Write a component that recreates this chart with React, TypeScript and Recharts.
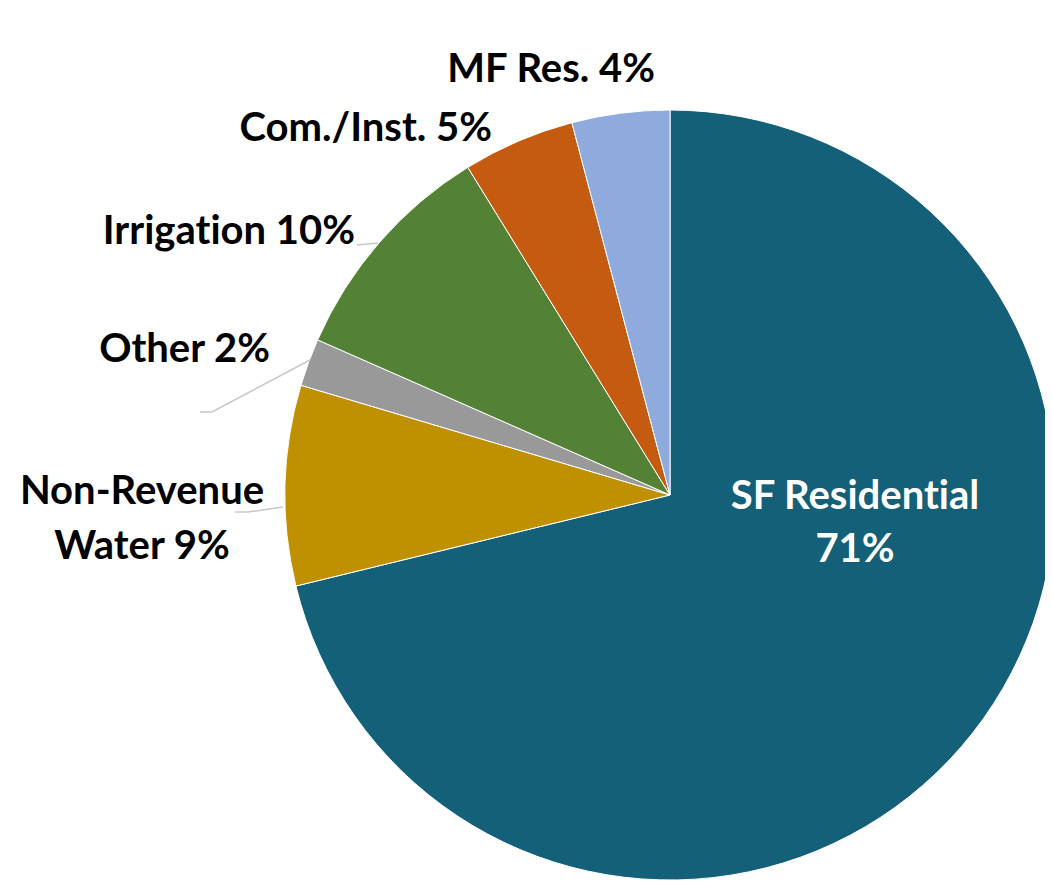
import React from "react";
import { PieChart, Pie, Cell } from "recharts";

// Data
const categories = ["SF Residential", "Non-Revenue Water", "Other", "Irrigation", "Com./Inst.", "MF Res."];
const shares = [71.2, 8.4, 2.0, 9.6, 4.7, 4.1];
const labelLines = [
  ["SF Residential", "71%"],
  ["Non-Revenue", "Water 9%"],
  ["Other 2%"],
  ["Irrigation 10%"],
  ["Com./Inst. 5%"],
  ["MF Res. 4%"],
];

const colors = ["#146079", "#BF9000", "#999999", "#538135", "#C55A11", "#8FAADC"];

const data = categories.map((name, i) => ({ name, value: shares[i] }));

// Label layout relative to the pie centre (text anchor, first line centre y, leader polyline)
const labelLayout: { x: number; y: number; anchor: "start" | "middle" | "end"; fill: string; lineH: number; leader?: number[][] }[] = [
  { x: 185, y: 0, anchor: "middle", fill: "#ffffff", lineH: 53 },
  { x: -528, y: -5, anchor: "middle", fill: "#000000", lineH: 55, leader: [[-387, 12], [-422, 17], [-435, 17]] },
  { x: -400, y: -147, anchor: "end", fill: "#000000", lineH: 0, leader: [[-360, -135], [-458, -83], [-470, -83]] },
  { x: -315, y: -265, anchor: "end", fill: "#000000", lineH: 0, leader: [[-292, -252], [-313, -250]] },
  { x: -178, y: -368, anchor: "end", fill: "#000000", lineH: 0 },
  { x: -15, y: -427, anchor: "end", fill: "#000000", lineH: 0 },
];

const FONT = "Lato, 'Open Sans', sans-serif";
const FONT_SIZE = 40;

const renderLabel = (props: any) => {
  const { cx, cy, index } = props;
  const lay = labelLayout[index];
  const lines = labelLines[index];
  return (
    <g key={`lbl-${index}`}>
      {lay.leader && (
        <polyline
          points={lay.leader.map(([x, y]) => `${cx + x},${cy + y}`).join(" ")}
          fill="none"
          stroke="#c8c8c8"
          strokeWidth={1.5}
        />
      )}
      <text
        x={cx + lay.x}
        y={cy + lay.y}
        textAnchor={lay.anchor}
        fill={lay.fill}
        fontFamily={FONT}
        fontWeight={700}
        fontSize={FONT_SIZE}
        style={{ fontVariantLigatures: "none", fontFeatureSettings: '"liga" 0, "clig" 0' }}
      >
        {lines.map((t, i) => (
          <tspan key={i} x={cx + lay.x} dy={i === 0 ? 14 : lay.lineH}>
            {t}
          </tspan>
        ))}
      </text>
    </g>
  );
};

export default function App() {
  return (
    <div style={{ width: 1045, height: 875, background: "#ffffff" }}>
      <PieChart width={1045} height={875} margin={{ top: 0, right: 0, bottom: 0, left: 0 }}>
        <Pie
          data={data}
          dataKey="value"
          nameKey="name"
          cx={662}
          cy={487}
          outerRadius={385}
          startAngle={90}
          endAngle={-270}
          stroke="#ffffff"
          strokeWidth={1}
          label={renderLabel}
          labelLine={false}
          isAnimationActive={false}
        >
          {data.map((d, i) => (
            <Cell key={d.name} fill={colors[i]} />
          ))}
        </Pie>
      </PieChart>
    </div>
  );
}
